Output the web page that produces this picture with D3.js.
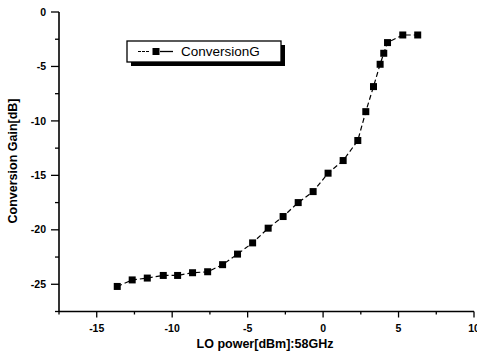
<!DOCTYPE html>
<html><head><meta charset="utf-8">
<script src="https://cdn.jsdelivr.net/npm/d3@7"></script>
<style>body{margin:0;background:#fff}svg{display:block}text{font-family:"Liberation Sans",Arial,sans-serif}</style>
</head><body><svg id="c" width="477" height="360"></svg>
<script>
const loPower = [-13.64,-12.65,-11.65,-10.59,-9.64,-8.65,-7.65,-6.66,-5.67,-4.67,-3.64,-2.65,-1.65,-0.66,0.33,1.33,2.30,2.83,3.34,3.78,4.02,4.27,5.28,6.27];
const convGain = [-25.2,-24.6,-24.43,-24.19,-24.19,-23.94,-23.85,-23.2,-22.23,-21.2,-19.85,-18.78,-17.5,-16.49,-14.8,-13.64,-11.8,-9.15,-6.85,-4.8,-3.79,-2.81,-2.11,-2.11];
const xTicks = [-15,-10,-5,0,5,10];
const yTicks = [0,-5,-10,-15,-20,-25];
const seriesName = "ConversionG";
const xLabel = "LO power[dBm]:58GHz";
const yLabel = "Conversion Gain[dB]";

const svg = d3.select("#c");
const x = d3.scaleLinear().domain([-17.5,10]).range([59,474]);
const y = d3.scaleLinear().domain([-27.5,0]).range([311.5,12]);

// x axis
const gx = svg.append("g").attr("transform","translate(0,311.5)");
gx.append("line").attr("x1",x.range()[0]).attr("x2",x.range()[1]).attr("stroke","#000").attr("stroke-width",1.6);
d3.range(-17.5,10.01,2.5).forEach(v=>{
  const major = xTicks.includes(v);
  gx.append("line").attr("x1",x(v)).attr("x2",x(v)).attr("y1",0).attr("y2",major?6:3).attr("stroke","#000").attr("stroke-width",1.3);
});
xTicks.forEach(v=>{
  gx.append("text").attr("x",x(v)).attr("y",20).attr("text-anchor","middle").attr("font-size",10.5).attr("font-weight","bold").text(v);
});
// y axis
const gy = svg.append("g").attr("transform","translate(59,0)");
gy.append("line").attr("y1",y.range()[0]).attr("y2",y.range()[1]).attr("stroke","#000").attr("stroke-width",1.6);
d3.range(-27.5,0.01,2.5).forEach(v=>{
  const major = yTicks.includes(v);
  gy.append("line").attr("x1",0).attr("x2",major?-8:-4).attr("y1",y(v)).attr("y2",y(v)).attr("stroke","#000").attr("stroke-width",1.3);
});
yTicks.forEach(v=>{
  gy.append("text").attr("x",-13).attr("y",y(v)).attr("dy","0.35em").attr("text-anchor","end").attr("font-size",10.5).attr("font-weight","bold").text(v);
});

// axis titles
svg.append("text").attr("x",265).attr("y",348).attr("text-anchor","middle").attr("font-size",12.5).attr("font-weight","bold").text(xLabel);
svg.append("text").attr("transform","translate(17,161) rotate(-90)").attr("text-anchor","middle").attr("font-size",12.5).attr("font-weight","bold").text(yLabel);

// series
const pts = loPower.map((v,i)=>[v,convGain[i]]);
svg.append("path").attr("d",d3.line().x(d=>x(d[0])).y(d=>y(d[1]))(pts))
  .attr("fill","none").attr("stroke","#000").attr("stroke-width",1.2).attr("stroke-dasharray","5,3");
svg.selectAll("rect.pt").data(pts).enter().append("rect").attr("class","pt")
  .attr("x",d=>x(d[0])-3.5).attr("y",d=>y(d[1])-3.5).attr("width",7).attr("height",7).attr("fill","#000");

// legend
const lg = svg.append("g");
lg.append("rect").attr("x",131).attr("y",45).attr("width",154).attr("height",21).attr("fill","#000");
lg.append("rect").attr("x",127).attr("y",41).attr("width",154).attr("height",21).attr("fill","#fff").attr("stroke","#000").attr("stroke-width",1.3);
lg.append("line").attr("x1",138).attr("x2",150).attr("y1",51.5).attr("y2",51.5).attr("stroke","#000").attr("stroke-width",1).attr("stroke-dasharray","3,1");
lg.append("line").attr("x1",160).attr("x2",173).attr("y1",51.5).attr("y2",51.5).attr("stroke","#000").attr("stroke-width",1.3);
lg.append("rect").attr("x",152.5).attr("y",48).attr("width",7).attr("height",7).attr("fill","#000");
lg.append("text").attr("x",181).attr("y",51.5).attr("dy","0.36em").attr("font-size",13.5).text(seriesName);
</script></body></html>
